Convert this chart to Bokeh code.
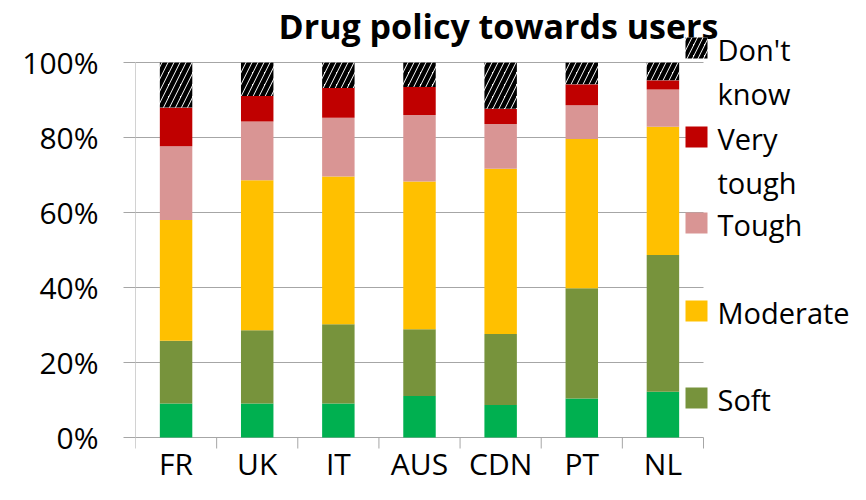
import numpy as np
from bokeh.plotting import figure
from bokeh.models import Range1d, FixedTicker, PrintfTickFormatter, ColumnDataSource
from bokeh.core.properties import value
from bokeh.embed import file_html
from bokeh.resources import INLINE

# ---- data (percent of respondents) ----
categories = ["FR", "UK", "IT", "AUS", "CDN", "PT", "NL"]
very_soft  = [9.1, 9.1, 9.1, 11.1, 8.7, 10.4, 12.2]
soft       = [16.7, 19.5, 21.1, 17.8, 18.9, 29.4, 36.5]
moderate   = [32.2, 40.0, 39.4, 39.4, 44.1, 39.8, 34.2]
tough      = [19.7, 15.7, 15.7, 17.7, 11.9, 9.0, 9.9]
very_tough = [10.3, 6.8, 7.9, 7.5, 4.1, 5.6, 2.5]
dont_know  = [12.0, 8.9, 6.8, 6.5, 12.3, 5.8, 4.7]
y_ticks = [0, 20, 40, 60, 80, 100]

series = [very_soft, soft, moderate, tough, very_tough, dont_know]
colors = ["#00B050", "#77933C", "#FFC000", "#D99594", "#C00000", "#FFFFFF"]

W, H = 850, 484
PL, PR, PT_, PB = 135, 703, 62, 437      # plot-area edges (px)
N = len(categories)
PXX = (PR - PL) / N                      # px per category
PXY = (PB - PT_) / 100.0                 # px per percent

def dx(px):
    return (px - PL) / PXX
def dy(py):
    return (PB - py) / PXY
def base(py, size):
    # text glyphs sit ~0.3em lower than the requested alphabetic baseline
    return dy(py - 0.3 * size)

p = figure(width=W, height=H, output_backend="svg", toolbar_location=None,
           x_axis_location=None,
           x_range=Range1d(0, dx(W)), y_range=Range1d(dy(H), dy(0)),
           min_border_left=PL, min_border_right=0,
           min_border_top=0, min_border_bottom=0)
p.outline_line_color = None
p.background_fill_color = "white"
p.border_fill_color = "white"
p.xgrid.grid_line_color = None
p.ygrid.grid_line_color = None

GRID = "#A6A6A6"
FONT = "Open Sans"

# gridlines, axis lines and category-boundary ticks, limited to the plot area
p.segment(x0=[0] * len(y_ticks), x1=[N] * len(y_ticks), y0=y_ticks, y1=y_ticks,
          line_color=GRID, line_width=1)
p.segment(x0=[0], x1=[0], y0=[0], y1=[100], line_color=GRID, line_width=1)
bounds = list(range(N + 1))
p.segment(x0=bounds, x1=bounds, y0=[0] * len(bounds), y1=[dy(PB + 11)] * len(bounds),
          line_color=GRID, line_width=1)

# stacked bars
xs = np.arange(N) + 0.5
bottom = np.zeros(N)
for vals, col in zip(series, colors):
    top = bottom + np.array(vals)
    src = ColumnDataSource(dict(x=xs, bottom=bottom.copy(), top=top.copy()))
    if col == "#FFFFFF":
        p.vbar(x="x", bottom="bottom", top="top", width=0.4, source=src,
               fill_color="white", line_color=None,
               hatch_pattern="/", hatch_color="black", hatch_weight=4.5, hatch_scale=12)
    else:
        p.vbar(x="x", bottom="bottom", top="top", width=0.4, source=src,
               fill_color=col, line_color=None)
    bottom = top

# category labels
p.text(x=xs, y=[base(472, 30)] * N, text=categories, text_font=value(FONT),
       text_font_size="30px", text_align="center", text_baseline="alphabetic",
       text_color="black")

# y axis
p.yaxis.ticker = FixedTicker(ticks=y_ticks)
p.yaxis.formatter = PrintfTickFormatter(format="%d%%")
p.yaxis.major_label_text_font = FONT
p.yaxis.major_label_text_font_size = "30px"
p.yaxis.major_label_text_color = "black"
p.yaxis.major_tick_in = 0
p.yaxis.major_tick_out = 12
p.yaxis.minor_tick_line_color = None
p.yaxis.major_tick_line_color = GRID
p.yaxis.axis_line_color = None
p.yaxis.major_label_standoff = 25

# title
p.text(x=[dx(498)], y=[base(36, 34)], text=["Drug policy towards users"],
       text_font=value(FONT), text_font_size="34px", text_font_style="bold",
       text_align="center", text_baseline="alphabetic", text_color="black")

# legend (Excel style, swatch beside first line of each label)
leg_base = [58, 147, 233, 321, 408]
leg_items = [("Don't", "know"), ("Very", "tough"), ("Tough", None), ("Moderate", None), ("Soft", None)]
leg_cols = ["#FFFFFF", "#C00000", "#D99594", "#FFC000", "#77933C"]
LS = 29
for by, (l1, l2), col in zip(leg_base, leg_items, leg_cols):
    kw = dict(left=[dx(685)], right=[dx(707)], bottom=[dy(by)], top=[dy(by - 21)],
              fill_color=col, line_color=None)
    if col == "#FFFFFF":
        kw.update(hatch_pattern="/", hatch_color="black", hatch_weight=4, hatch_scale=11)
    p.quad(**kw)
    p.text(x=[dx(717)], y=[base(by, LS)], text=[l1], text_font=value(FONT),
           text_font_size=f"{LS}px", text_baseline="alphabetic", text_color="black")
    if l2:
        p.text(x=[dx(717)], y=[base(by + 44, LS)], text=[l2], text_font=value(FONT),
               text_font_size=f"{LS}px", text_baseline="alphabetic", text_color="black")

open("out.html", "w").write(file_html(p, INLINE))
